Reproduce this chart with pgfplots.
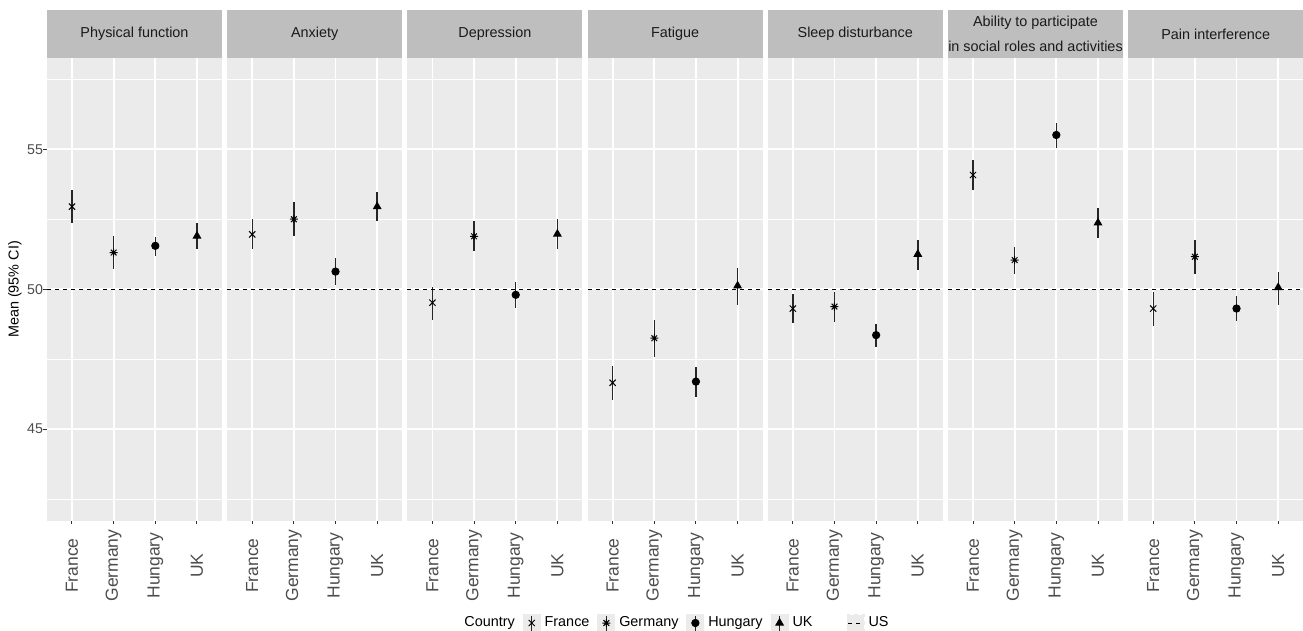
\documentclass[border=0pt]{standalone}
\usepackage{fontspec}
\setmainfont{Liberation Sans}
\usepackage{pgfplots}
\usepackage{pgfplotstable}
\pgfplotsset{compat=1.18}

\definecolor{panel}{HTML}{EBEBEB}
\definecolor{strip}{HTML}{BEBEBE}
\definecolor{keybg}{HTML}{EBEBEB}
\definecolor{tickgrey}{HTML}{4D4D4D}
\definecolor{striptext}{HTML}{1A1A1A}

% ggplot shape 8: x and + on top of each other
\pgfdeclareplotmark{ggstar}{%
  \pgfpathmoveto{\pgfqpoint{-\pgfplotmarksize}{0pt}}%
  \pgfpathlineto{\pgfqpoint{\pgfplotmarksize}{0pt}}%
  \pgfpathmoveto{\pgfqpoint{0pt}{-\pgfplotmarksize}}%
  \pgfpathlineto{\pgfqpoint{0pt}{\pgfplotmarksize}}%
  \pgfpathmoveto{\pgfqpoint{-.7071\pgfplotmarksize}{-.7071\pgfplotmarksize}}%
  \pgfpathlineto{\pgfqpoint{.7071\pgfplotmarksize}{.7071\pgfplotmarksize}}%
  \pgfpathmoveto{\pgfqpoint{-.7071\pgfplotmarksize}{.7071\pgfplotmarksize}}%
  \pgfpathlineto{\pgfqpoint{.7071\pgfplotmarksize}{-.7071\pgfplotmarksize}}%
  \pgfusepathqstroke}

% c: 1 France, 2 Germany, 3 Hungary, 4 UK; m mean, lo/hi 95% CI
\pgfplotstableread{
c m lo hi
1 52.95 52.38 53.55
2 51.31 50.71 51.90
3 51.55 51.19 51.88
4 51.90 51.43 52.36
}\physical
\pgfplotstableread{
c m lo hi
1 51.96 51.43 52.50
2 52.50 51.90 53.10
3 50.63 50.15 51.10
4 52.95 52.44 53.49
}\anxiety
\pgfplotstableread{
c m lo hi
1 49.52 48.90 50.09
2 51.89 51.37 52.44
3 49.80 49.34 50.25
4 51.97 51.43 52.50
}\depression
\pgfplotstableread{
c m lo hi
1 46.66 46.05 47.24
2 48.25 47.57 48.90
3 46.70 46.16 47.21
4 50.12 49.44 50.77
}\fatigue
\pgfplotstableread{
c m lo hi
1 49.31 48.79 49.83
2 49.38 48.84 49.89
3 48.36 47.95 48.76
4 51.25 50.69 51.76
}\sleep
\pgfplotstableread{
c m lo hi
1 54.08 53.55 54.62
2 51.04 50.56 51.50
3 55.51 55.06 55.95
4 52.37 51.83 52.89
}\ability
\pgfplotstableread{
c m lo hi
1 49.31 48.70 49.89
2 51.16 50.56 51.76
3 49.31 48.88 49.74
4 50.06 49.44 50.63
}\pain

\pgfplotsset{
  facet/.style={
    width=87.5pt, height=231.5pt, scale only axis, anchor=north west,
    xmin=0.4, xmax=4.6, ymin=41.72, ymax=58.26,
    axis background/.style={fill=panel},
    axis line style={draw=none},
    xtick={1,2,3,4}, xticklabels={France,Germany,Hungary,UK},
    ytick={45,50,55}, minor ytick={42.5,47.5,52.5,57.5},
    xmajorgrids, ymajorgrids, yminorgrids,
    major grid style={white, line width=0.9pt},
    minor grid style={white, line width=0.45pt},
    tick pos=left,
    tick align=outside, major tick length=1.75pt, minor tick length=0pt,
    tick style={draw=black!80, line width=0.5pt},
    xticklabel style={font=\fontsize{8.75pt}{10pt}\selectfont, text=tickgrey,
      yshift=-20.5pt, rotate=90, anchor=center},
    yticklabel style={font=\fontsize{7.1pt}{8.5pt}\selectfont, text=tickgrey, xshift=3.3pt},
    clip=false,
  },
  inner/.style={facet, yticklabels={}, ytick style={draw=none}},
  ptb/.style={only marks, black, mark options={solid, line width=0.5pt, fill=black},
    error bars/y dir=both, error bars/y explicit, error bars/error mark=none,
    error bars/error bar style={line width=0.7pt, black!85},
    legend image code/.code={
      \fill[keybg] (0pt,-4.25pt) rectangle (8.5pt,4.25pt);
      \draw[line width=0.6pt, black!85] (4.25pt,-3.75pt) -- (4.25pt,3.75pt);
      \draw[only marks] plot coordinates {(4.25pt,0pt)};
    }},
  usline/.style={black, line width=0.5pt, dash pattern=on 2pt off 2pt, mark=none,
    legend image code/.code={
      \path (0pt,0pt);
      \fill[keybg] (13pt,-4.25pt) rectangle (21.5pt,4.25pt);
      \draw[black, line width=0.5pt, dash pattern=on 2pt off 2pt] (13.5pt,0pt) -- (21pt,0pt);
    }},
}

% grey facet strip above the panel
\newcommand{\strip}[1]{%
  \fill[strip] (rel axis cs:0,1) rectangle ([yshift=24pt]rel axis cs:1,1);
  \node[text=striptext, align=center, inner sep=0pt,
    font=\fontsize{7.2pt}{12.5pt}\selectfont] at ([yshift=12pt]rel axis cs:0.5,1) {#1};
}

\newcommand{\facet}[1]{%
  \addplot[ptb, mark=x, mark size=2.2pt, restrict x to domain=0.5:1.5]
    table[x=c, y=m, y error plus expr=\thisrow{hi}-\thisrow{m}, y error minus expr=\thisrow{m}-\thisrow{lo}] {#1};
  \addplot[ptb, mark=ggstar, mark size=2pt, restrict x to domain=1.5:2.5]
    table[x=c, y=m, y error plus expr=\thisrow{hi}-\thisrow{m}, y error minus expr=\thisrow{m}-\thisrow{lo}] {#1};
  \addplot[ptb, mark=*, mark size=1.8pt, restrict x to domain=2.5:3.5]
    table[x=c, y=m, y error plus expr=\thisrow{hi}-\thisrow{m}, y error minus expr=\thisrow{m}-\thisrow{lo}] {#1};
  \addplot[ptb, mark=triangle*, mark size=2.1pt, restrict x to domain=3.5:4.5]
    table[x=c, y=m, y error plus expr=\thisrow{hi}-\thisrow{m}, y error minus expr=\thisrow{m}-\thisrow{lo}] {#1};
  \addplot[usline] coordinates {(0.4,50) (4.6,50)};
}

\begin{document}
\begin{tikzpicture}
\useasboundingbox (0,0) rectangle (651.5pt,-315.5pt);

\begin{axis}[facet, at={(23.5pt,-29pt)}, yticklabels={45,50,55}]
\strip{Physical function}
\facet{\physical}
\end{axis}

\begin{axis}[inner, at={(113.6pt,-29pt)}]
\strip{Anxiety}
\facet{\anxiety}
\end{axis}

\begin{axis}[inner, at={(203.7pt,-29pt)}]
\strip{Depression}
\facet{\depression}
\end{axis}

\begin{axis}[inner, at={(293.8pt,-29pt)},
  legend columns=6,
  legend entries={Country,France,Germany,Hungary,UK,US},
  legend style={at={(-0.729,-0.2203)}, anchor=west, draw=none, fill=none,
    inner xsep=0pt, font=\fontsize{7.2pt}{8.6pt}\selectfont,
    /tikz/every even column/.append style={column sep=2pt}}]
\addlegendimage{empty legend}
\strip{Fatigue}
\facet{\fatigue}
\end{axis}

\begin{axis}[inner, at={(383.9pt,-29pt)}]
\strip{Sleep disturbance}
\facet{\sleep}
\end{axis}

\begin{axis}[inner, at={(474.0pt,-29pt)}]
\strip{Ability to participate\\in social roles and activities}
\facet{\ability}
\end{axis}

\begin{axis}[inner, at={(564.1pt,-29pt)}]
\strip{Pain interference}
\facet{\pain}
\end{axis}

\node[rotate=90, font=\fontsize{7.2pt}{8.6pt}\selectfont] at (7.5pt,-144.75pt) {Mean (95\% CI)};
\end{tikzpicture}
\end{document}
